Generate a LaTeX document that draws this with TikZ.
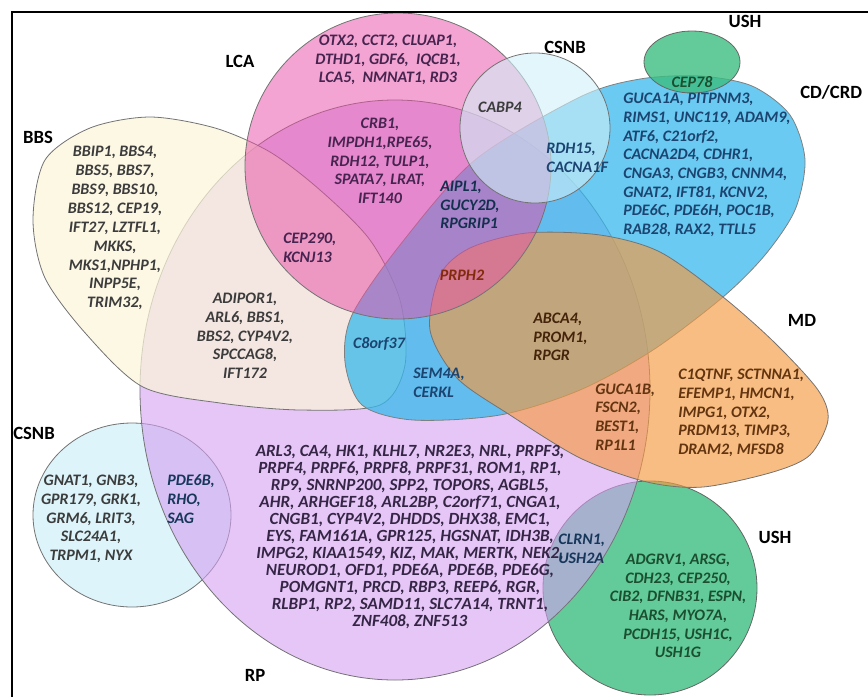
\documentclass[tikz,border=0pt]{standalone}
\usepackage{fontspec}
\setmainfont{Carlito}
\definecolor{rpFill}{HTML}{D4A0F2}
\definecolor{bbsFill}{HTML}{FBF5DA}
\definecolor{cdFill}{HTML}{38B8EC}
\definecolor{lcaFill}{HTML}{E850A8}
\definecolor{csnbFill}{HTML}{D0F0F8}
\definecolor{mdFill}{HTML}{F59A40}
\definecolor{ushFill}{HTML}{3CBE80}
\definecolor{txtGrey}{HTML}{3C3C3C}
\definecolor{txtLCA}{HTML}{46244F}
\definecolor{txtCD}{HTML}{1C4470}
\definecolor{txtMD}{HTML}{633410}
\definecolor{txtRP}{HTML}{362646}
\definecolor{txtUSH}{HTML}{1B4F2F}
\tikzset{
    setRP/.style={draw=black!55, fill=rpFill, fill opacity=0.6, line width=0.6pt},
    setBBS/.style={draw=black!55, fill=bbsFill, fill opacity=0.72, line width=0.6pt},
    setCD/.style={draw=black!50, fill=cdFill, fill opacity=0.75, line width=0.6pt},
    setLCA/.style={draw=black!55, fill=lcaFill, fill opacity=0.52, line width=0.6pt},
    setCSNB/.style={draw=black!55, fill=csnbFill, fill opacity=0.75, line width=0.6pt},
    setMD/.style={draw=black!55, fill=mdFill, fill opacity=0.65, line width=0.6pt},
    setUSH/.style={draw=black!60, fill=ushFill, fill opacity=0.8, line width=0.6pt},
    genes/.style={font=\fontsize{12}{14}\selectfont\bfseries\itshape, align=center, inner sep=0pt, text=txtGrey},
    genesL/.style={genes, align=left, anchor=west},
    setname/.style={font=\fontsize{14}{16}\selectfont\bfseries, inner sep=0pt},
}
\begin{document}
\begin{tikzpicture}[x=0.75pt, y=-0.75pt]
    \useasboundingbox (0,0) rectangle (868,697);

    % sets, back to front
    \draw[setUSH] (650,588) circle [radius=107];
    \draw[setCSNB] (132,515) ellipse [x radius=99, y radius=92];
    \draw[setRP] (395,390) ellipse [x radius=255, y radius=290];
    \draw[setBBS] plot[smooth cycle] coordinates {(33,220) (45,160) (90,128) (150,117) (215,128)
        (270,152) (320,190) (370,240) (400,300) (405,365) (380,405) (300,410) (220,403)
        (143,387) (87,335) (45,278)};
    \draw[setCD] plot[smooth cycle] coordinates {(580,97) (640,79) (700,76) (752,86) (790,115)
        (805,160) (795,210) (765,255) (723,297) (653,350) (580,390) (500,415) (413,420)
        (362,405) (345,362) (352,315) (400,245) (475,160)};
    \draw[setMD] plot[smooth cycle] coordinates {(430,330) (440,275) (470,248) (527,233)
        (600,235) (660,252) (723,297) (775,343) (818,390) (828,420) (810,455) (773,472)
        (703,487) (647,482) (580,458) (510,415) (457,378)};
    \draw[setLCA] (398,166) circle [radius=153];
    \draw[setCSNB, fill opacity=0.6] (535,128) circle [radius=75];
    \draw[setUSH] (692,62) ellipse [x radius=48, y radius=31];

    % frame
    \draw[line width=1.5pt] (12,697) -- (12,12) -- (868,12);

    % set names
    \node[setname] (lblLCA) at (240,61) {LCA};
    \node[setname] (lblCSNBtop) at (565,47) {CSNB};
    \node[setname] (lblUSHtop) at (745,21) {USH};
    \node[setname, anchor=west] (lblCD) at (800,92) {CD/CRD};
    \node[setname] (lblBBS) at (38,137) {BBS};
    \node[setname] (lblMD) at (802,320) {MD};
    \node[setname] (lblCSNBbot) at (34,433) {CSNB};
    \node[setname] (lblUSHbot) at (775,537) {USH};
    \node[setname] (lblRP) at (255,675) {RP};

    % BBS
    \node[genes, font=\fontsize{12}{14.2}\selectfont\bfseries\itshape] (bbsGenes) at (115,228)
        {BBIP1, BBS4,\\BBS5, BBS7,\\BBS9, BBS10,\\BBS12, CEP19,\\IFT27, LZTFL1,\\MKKS,\\MKS1,NPHP1,\\INPP5E,\\TRIM32,};
    \node[genes] (bbsRpGenes) at (245,336)
        {ADIPOR1,\\ARL6, BBS1,\\BBS2, CYP4V2,\\SPCCAG8,\\IFT172};

    % LCA
    \node[genes, text=txtLCA] (lcaGenes) at (388,60)
        {OTX2, CCT2, CLUAP1,\\DTHD1, GDF6,\ \ IQCB1,\\LCA5,\ \ NMNAT1, RD3};
    \node[genes, text=txtLCA] (lcaRpGenes) at (380,161)
        {CRB1,\\IMPDH1,RPE65,\\RDH12, TULP1,\\SPATA7, LRAT,\\IFT140};
    \node[genesL, text=txtLCA] (cepGenes) at (283,248) {CEP290,\\KCNJ13};
    \node[genes] (cabpGene) at (500,107) {CABP4};
    \node[genesL, text=txtCD] (rdhGenes) at (546,158) {RDH15,\\CACNA1F};
    \node[genesL, text=txtCD!70!black] (aiplGenes) at (440,205) {AIPL1,\\GUCY2D,\\RPGRIP1};
    \node[genes, text=txtMD!80!red] (prphGene) at (462,275) {PRPH2};

    % CD/CRD
    \node[genesL, text=txtCD] (cdGenes) at (623,165)
        {GUCA1A, PITPNM3,\\RIMS1, UNC119, ADAM9,\\ATF6, C21orf2,\\CACNA2D4, CDHR1,\\CNGA3, CNGB3, CNNM4,\\GNAT2, IFT81, KCNV2,\\PDE6C, PDE6H, POC1B,\\RAB28, RAX2, TTLL5};
    \node[genes, text=txtUSH] (cepUshGene) at (692,82) {CEP78};
    \node[genes, text=txtCD] (c8Gene) at (379,344) {C8orf37};
    \node[genesL, text=txtCD] (semGenes) at (413,383) {SEM4A,\\CERKL};
    \node[genesL, text=txtMD!70!black] (abcaGenes) at (533,337) {ABCA4,\\PROM1,\\RPGR};

    % MD
    \node[genesL, text=txtMD] (mdGenes) at (678,413)
        {C1QTNF, SCTNNA1,\\EFEMP1, HMCN1,\\IMPG1, OTX2,\\PRDM13, TIMP3,\\DRAM2, MFSD8};
    \node[genesL, text=txtMD] (gucaGenes) at (595,417) {GUCA1B,\\FSCN2,\\BEST1,\\RP1L1};

    % RP
    \node[genes, text=txtRP, font=\fontsize{12.8}{12.8}\selectfont\bfseries\itshape] (rpGenes) at (410,537)
        {ARL3, CA4, HK1, KLHL7, NR2E3, NRL, PRPF3,\\PRPF4, PRPF6, PRPF8, PRPF31, ROM1, RP1,\\RP9, SNRNP200, SPP2, TOPORS, AGBL5,\\AHR, ARHGEF18, ARL2BP, C2orf71, CNGA1,\\CNGB1, CYP4V2, DHDDS, DHX38, EMC1,\\EYS, FAM161A, GPR125, HGSNAT, IDH3B,\\IMPG2, KIAA1549, KIZ, MAK, MERTK, NEK2,\\NEUROD1, OFD1, PDE6A, PDE6B, PDE6G,\\POMGNT1, PRCD, RBP3, REEP6, RGR,\\RLBP1, RP2, SAMD11, SLC7A14, TRNT1,\\ZNF408, ZNF513};

    % CSNB
    \node[genes] (csnbGenes) at (91,519)
        {GNAT1, GNB3,\\GPR179, GRK1,\\GRM6, LRIT3,\\SLC24A1,\\TRPM1, NYX};
    \node[genesL, text=txtCD!80!black] (pdeGenes) at (167,499) {PDE6B,\\RHO,\\SAG};

    % USH
    \node[genesL, text=txtCD!80!black] (clrnGenes) at (558,549) {CLRN1,\\USH2A};
    \node[genes, text=txtUSH] (ushGenes) at (678,606)
        {ADGRV1, ARSG,\\CDH23, CEP250,\\CIB2, DFNB31, ESPN,\\HARS, MYO7A,\\PCDH15, USH1C,\\USH1G};
\end{tikzpicture}
\end{document}
